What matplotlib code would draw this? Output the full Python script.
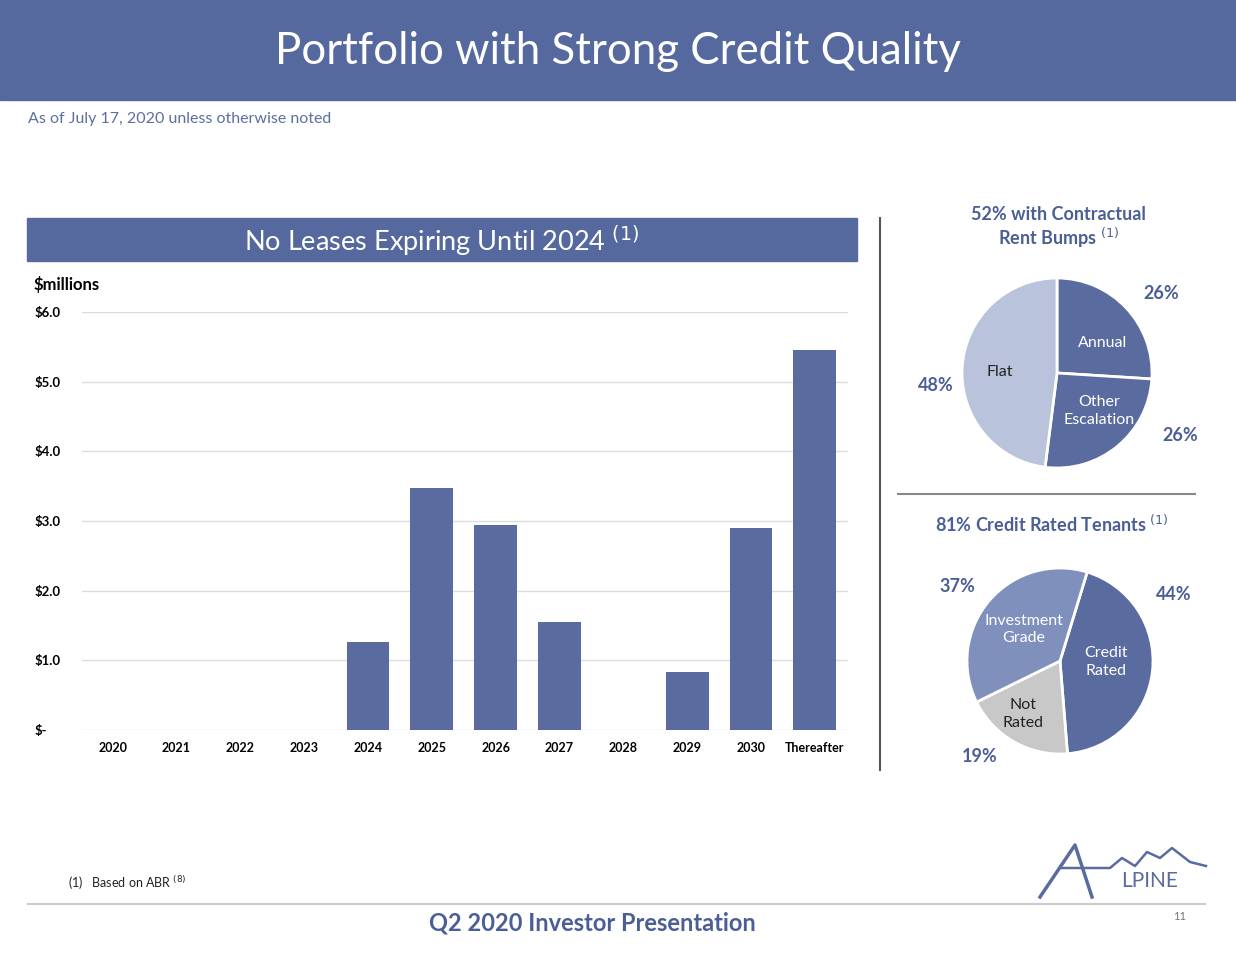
import matplotlib
matplotlib.use("Agg")
import matplotlib.pyplot as plt
from matplotlib.patches import Rectangle
from matplotlib.lines import Line2D

# ---------------- data ----------------
years = ["2020", "2021", "2022", "2023", "2024", "2025", "2026", "2027",
         "2028", "2029", "2030", "Thereafter"]
expiring = [0, 0, 0, 0, 1.26, 3.47, 2.94, 1.55, 0, 0.83, 2.90, 5.45]
y_ticks = [0, 1, 2, 3, 4, 5, 6]
y_tick_labels = ["$-", "$1.0", "$2.0", "$3.0", "$4.0", "$5.0", "$6.0"]

bump_labels = ["Annual", "Other\nEscalation", "Flat"]
bump_values = [26, 26, 48]
bump_pcts = ["26%", "26%", "48%"]

credit_labels = ["Credit\nRated", "Not\nRated", "Investment\nGrade"]
credit_values = [44, 19, 37]
credit_pcts = ["44%", "19%", "37%"]

# ---------------- style ----------------
W, H = 1236, 956
BLUE = "#56699e"
BAR = "#5a6c9f"
TXT_BLUE = "#4b5e96"
FONT = "Lato"
plt.rcParams["font.family"] = [FONT, "DejaVu Sans"]

fig = plt.figure(figsize=(W / 100, H / 100), dpi=100)

def fx(px):
    return px / W

def fy(py):
    return 1 - py / H

# header band
fig.patches.append(Rectangle((0, fy(100)), 1, 100 / H, transform=fig.transFigure,
                             color=BLUE, zorder=0))
fig.text(fx(618), fy(52), "Portfolio with Strong Credit Quality", color="white",
         fontsize=31.5, ha="center", va="center")
fig.text(fx(28), fy(119), "As of July 17, 2020 unless otherwise noted", color="#5d6f9f",
         fontsize=11.5, ha="left", va="center")

# bar chart header band
fig.patches.append(Rectangle((fx(27), fy(261)), fx(857 - 27), 43 / H, transform=fig.transFigure,
                             color=BLUE, zorder=0))
fig.text(fx(442), fy(241), r"No Leases Expiring Until 2024 $^{(1)}$", color="white",
         fontsize=19.5, ha="center", va="center")

# bar chart
ax = fig.add_axes([fx(82), fy(730), fx(848 - 82), (730 - 312) / H])
x = range(len(years))
ax.bar(x, expiring, width=0.67, color=BAR, zorder=3)
ax.set_xlim(-0.48, len(years) - 0.48)
ax.set_ylim(0, 6)
ax.set_yticks(y_ticks)
ax.set_yticklabels(y_tick_labels, fontsize=9.5, fontweight="bold", ha="left")
ax.tick_params(axis="y", length=0, pad=34)
ax.set_xticks(list(x))
ax.set_xticklabels(years, fontsize=9, fontweight="bold")
ax.tick_params(axis="x", length=0, pad=9)
ax.grid(axis="y", color="#dcdcdc", linewidth=1, zorder=0)
for s in ax.spines.values():
    s.set_visible(False)
fig.text(fx(33), fy(285), "$millions", fontsize=12, fontweight="bold", ha="left", va="center")

# dividers
fig.add_artist(Line2D([fx(880), fx(880)], [fy(218), fy(770)], color="#555555", linewidth=1.5))
fig.add_artist(Line2D([fx(898), fx(1195)], [fy(494), fy(494)], color="#888888", linewidth=1.5))

# pie 1
R1 = 95
ax1 = fig.add_axes([fx(1057 - R1), fy(373 + R1), fx(2 * R1), 2 * R1 / H])
ax1.pie(bump_values, colors=[BAR, BAR, "#b9c3dc"], startangle=90, counterclock=False,
        wedgeprops=dict(edgecolor="white", linewidth=2))
ax1.set_xlim(-1, 1)
ax1.set_ylim(-1, 1)
inner1 = [(0.48, 0.32), (0.44, -0.40), (-0.60, 0.01)]
outer1 = [(1.10, 0.84), (1.30, -0.66), (-1.28, -0.13)]
icol1 = ["white", "white", "#222222"]
for lab, pct, ip, op, c in zip(bump_labels, bump_pcts, inner1, outer1, icol1):
    ax1.text(ip[0], ip[1], lab, ha="center", va="center", color=c, fontsize=11.5,
             linespacing=1.3)
    ax1.text(op[0], op[1], pct, ha="center", va="center", color=TXT_BLUE, fontsize=13,
             fontweight="bold")
fig.text(fx(1058), fy(228), "52% with Contractual\n" + r"Rent Bumps $^{(1)}$", ha="center",
         va="center", color=TXT_BLUE, fontsize=13, fontweight="bold", linespacing=1.2)

# pie 2
R2 = 93
ax2 = fig.add_axes([fx(1060 - R2), fy(661 + R2), fx(2 * R2), 2 * R2 / H])
ax2.pie(credit_values, colors=[BAR, "#c8c8c8", "#8090bd"], startangle=73, counterclock=False,
        wedgeprops=dict(edgecolor="white", linewidth=2))
ax2.set_xlim(-1, 1)
ax2.set_ylim(-1, 1)
inner2 = [(0.49, -0.01), (-0.40, -0.57), (-0.39, 0.34)]
outer2 = [(1.22, 0.71), (-0.86, -1.03), (-1.10, 0.80)]
icol2 = ["white", "#222222", "white"]
for lab, pct, ip, op, c in zip(credit_labels, credit_pcts, inner2, outer2, icol2):
    ax2.text(ip[0], ip[1], lab, ha="center", va="center", color=c, fontsize=11.5,
             linespacing=1.3)
    ax2.text(op[0], op[1], pct, ha="center", va="center", color=TXT_BLUE, fontsize=13,
             fontweight="bold")
fig.text(fx(1052), fy(524), r"81% Credit Rated Tenants $^{(1)}$", ha="center",
         va="center", color=TXT_BLUE, fontsize=13, fontweight="bold")

# footer
fig.text(fx(68), fy(883), r"(1)   Based on ABR $^{(8)}$", fontsize=9, ha="left", va="center",
         color="#222222")
fig.add_artist(Line2D([fx(28), fx(1205)], [fy(904), fy(904)], color="#cccccc", linewidth=1.5))
fig.text(fx(592), fy(923), "Q2 2020 Investor Presentation", fontsize=17, fontweight="bold",
         ha="center", va="center", color=TXT_BLUE)
fig.text(fx(1180), fy(916), "11", fontsize=8, ha="center", va="center", color="#777777")

# logo (simple line mark)
LOGO = "#5a6c9f"
fig.add_artist(Line2D([fx(1040), fx(1075), fx(1092)], [fy(897), fy(845), fy(897)],
                      color=LOGO, linewidth=2.5))
fig.add_artist(Line2D([fx(1062), fx(1110), fx(1122), fx(1135), fx(1147), fx(1160),
                       fx(1172), fx(1190), fx(1206)],
                      [fy(868), fy(868), fy(858), fy(866), fy(852), fy(858), fy(848),
                       fy(862), fy(866)],
                      color=LOGO, linewidth=1.8))
fig.text(fx(1150), fy(881), "LPINE", fontsize=15, ha="center", va="center", color=LOGO)

fig.savefig("out.png", dpi=100)
